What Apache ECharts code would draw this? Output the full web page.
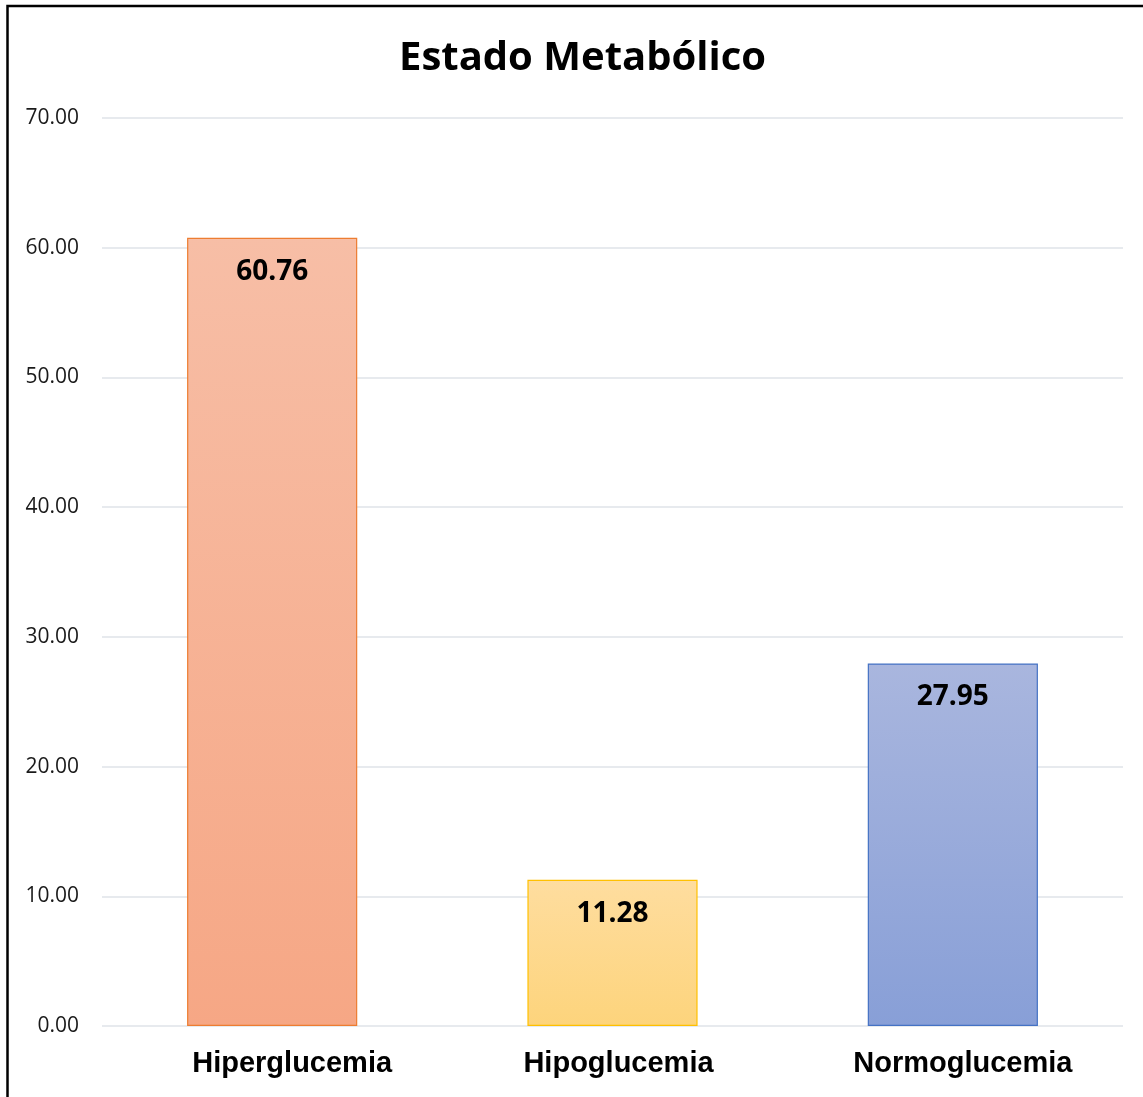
<!DOCTYPE html>
<html>
<head>
<meta charset="utf-8">
<script src="https://cdn.jsdelivr.net/npm/echarts@6/dist/echarts.min.js"></script>
<style>
html,body{margin:0;padding:0;background:#fff;}
#c{width:1143px;height:1097px;}
</style>
</head>
<body>
<div id="c"></div>
<script>
const categories = ['Hiperglucemia', 'Hipoglucemia', 'Normoglucemia'];
const values = [60.76, 11.28, 27.95];
const yTicks = { min: 0, max: 70, interval: 10 };
const titleText = 'Estado Metabólico';

const fills = [
  ['#f7bea6', '#f6a785', '#ed7d31'],
  ['#fedd9f', '#fdd47c', '#ffc000'],
  ['#a9b6de', '#889fd7', '#4472c4']
];
// horizontal shift of each category label (reference labels are not exactly centred under bars)
const labelShift = [20, 6, 10];

const chart = echarts.init(document.getElementById('c'), null, { renderer: 'canvas' });
chart.setOption({
  animation: false,
  backgroundColor: '#fff',
  title: {
    text: titleText,
    left: 394,
    top: 34,
    textStyle: { fontFamily: 'Open Sans', fontWeight: 'bold', fontSize: 40, color: '#000' }
  },
  graphic: [{
    type: 'rect',
    shape: { x: 7.5, y: 6, width: 1200, height: 1200 },
    style: { fill: 'none', stroke: '#000', lineWidth: 2.5 },
    silent: true,
    z: 100
  }],
  grid: { left: 102, right: 20, top: 118, bottom: 71, containLabel: false },
  xAxis: {
    type: 'category',
    data: categories.map((c, i) => ({
      value: c,
      textStyle: { padding: [0, 0, 0, labelShift[i] * 2] }
    })),
    axisLine: { show: false },
    axisTick: { show: false },
    axisLabel: {
      margin: 23,
      fontFamily: 'Liberation Sans',
      fontWeight: 'bold',
      fontSize: 29,
      color: '#000'
    }
  },
  yAxis: {
    type: 'value',
    min: yTicks.min,
    max: yTicks.max,
    interval: yTicks.interval,
    axisLine: { show: false },
    axisTick: { show: false },
    splitLine: { lineStyle: { color: '#dfe3e9', width: 1.5 } },
    axisLabel: {
      margin: 23,
      fontFamily: 'Open Sans',
      fontSize: 21,
      color: '#1a1a1a',
      formatter: v => v.toFixed(2)
    }
  },
  series: [{
    type: 'bar',
    barWidth: '50%',
    data: values.map((v, i) => ({
      value: v,
      itemStyle: {
        color: new echarts.graphic.LinearGradient(0, 0, 0, 1, [
          { offset: 0, color: fills[i][0] },
          { offset: 1, color: fills[i][1] }
        ]),
        borderColor: fills[i][2],
        borderWidth: 1.2
      }
    })),
    label: {
      show: true,
      position: 'insideTop',
      distance: 20,
      fontFamily: 'Open Sans',
      fontWeight: 'bold',
      fontSize: 28,
      color: '#000',
      formatter: p => p.value.toFixed(2)
    }
  }]
});
</script>
</body>
</html>
